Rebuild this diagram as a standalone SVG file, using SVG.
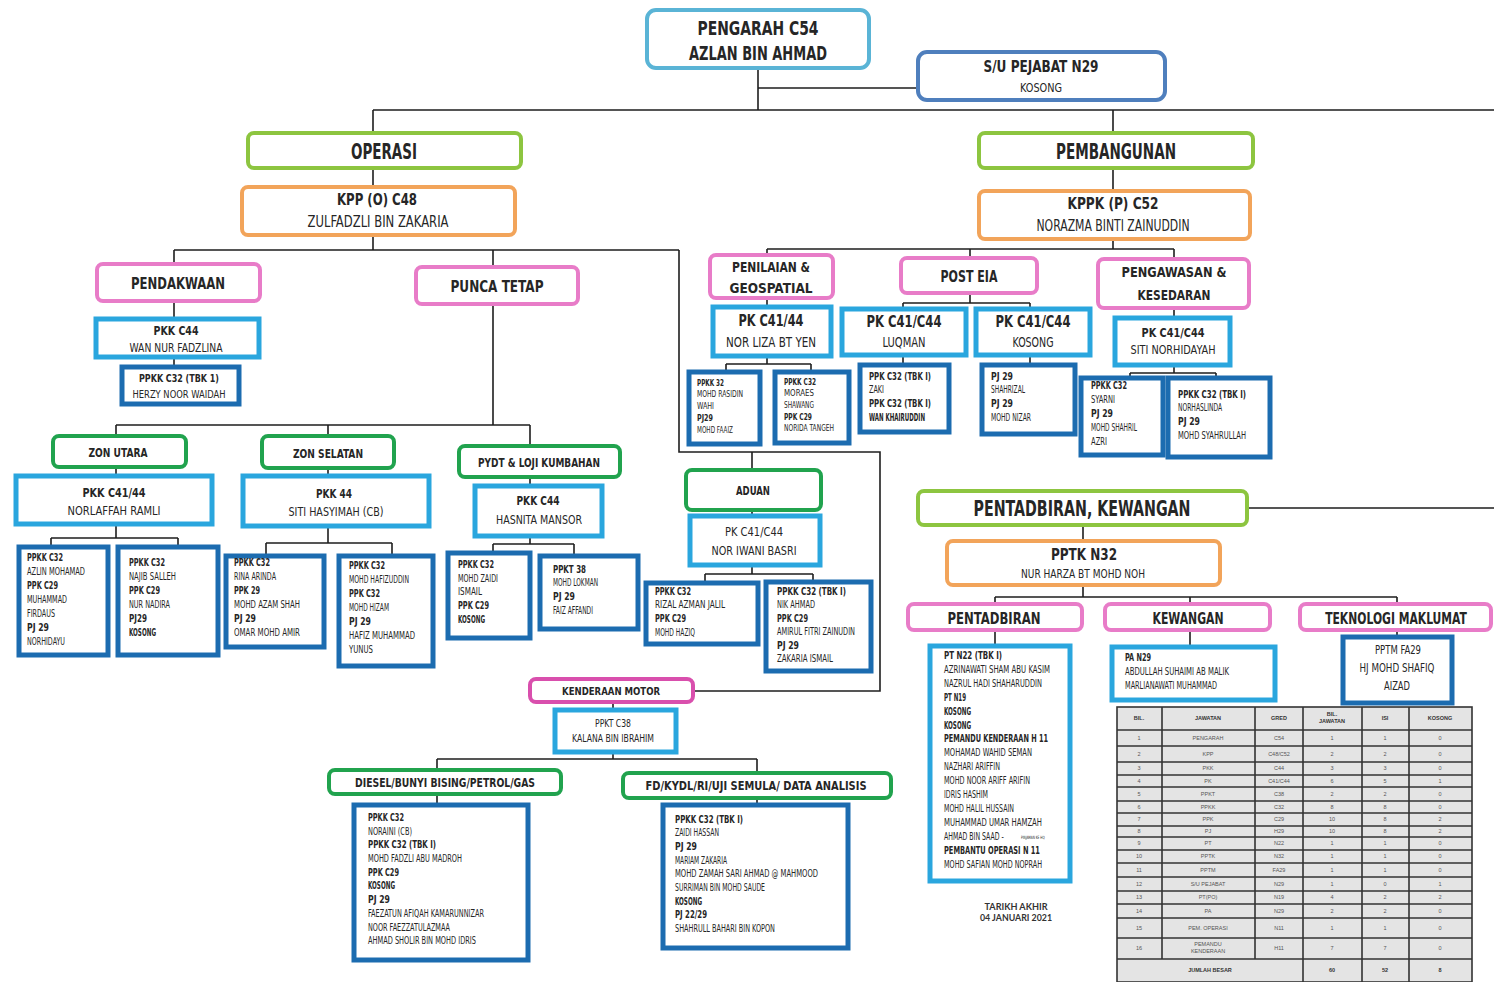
<svg xmlns="http://www.w3.org/2000/svg" width="1494" height="982" viewBox="0 0 1494 982">
<style>
.ln{fill:none;stroke:#1e1e1e;stroke-width:1.6}
rect{fill:#fff}
rect.cell{fill:#e4e4e4;stroke:#333;stroke-width:1.6}
.lbr{stroke:#5ab4d6;stroke-width:4}
.sbr{stroke:#4f7fbd;stroke-width:4}
.lg{stroke:#8dc540;stroke-width:4}
.or{stroke:#f2a45a;stroke-width:4}
.pk{stroke:#e87cc8;stroke-width:4}
.gr{stroke:#21a34e;stroke-width:4}
.mg{stroke:#d94fad;stroke-width:4}
.lb{stroke:#2aa6de;stroke-width:5}
.db{stroke:#1c6cb0;stroke-width:5}
text{font-family:'DejaVu Sans Condensed','DejaVu Sans','Liberation Sans',sans-serif;fill:#262626}
.h{font-weight:bold;text-anchor:middle}
.m{text-anchor:middle}
.t{font-size:10.5px}
.tb{font-size:10.5px;font-weight:bold}
.s{font-size:8.5px}
.sb{font-size:8.5px;font-weight:bold}
.tt{font-family:'Liberation Sans',Arial,sans-serif;font-size:5.5px;fill:#555;text-anchor:middle}
.tth{font-family:'Liberation Sans',Arial,sans-serif;font-size:5.5px;fill:#333;font-weight:bold;text-anchor:middle}
.dt{font-family:Lato,'Liberation Sans',sans-serif;font-size:8.5px;fill:#333;text-anchor:middle;font-weight:bold}
</style>

<g id="connectors">
<path class="ln" d="M758,68V110M758,88H918M373,110H1494M373,110V133M1113,110V133M373,168V187M1113,168V191"/>
<path class="ln" d="M373,235V250M174,250H679M174,250V264M493,250V267M679,250V452H880V691H693M752,452V470"/>
<path class="ln" d="M174,301V319M174,357V367M493,304V425M116,425H530M116,425V436M328,425V436M530,425V446"/>
<path class="ln" d="M116,467V476M328,468V476M530,477V486"/>
<path class="ln" d="M116,524V538M51,538H178M51,538V547M178,538V547"/>
<path class="ln" d="M328,526V543M266,543H392M266,543V556M392,543V556"/>
<path class="ln" d="M530,536V544M493,544H574M493,544V553M574,544V556"/>
<path class="ln" d="M752,510V516M752,565V574M705,574H813M705,574V583M813,574V582"/>
<path class="ln" d="M613,702V710M613,752V759M437,759H757M437,759V770M757,759V773M437,794V805M757,798V805"/>
<path class="ln" d="M1113,239V249M767,249H1174M767,249V255M970,249V258M1174,249V259"/>
<path class="ln" d="M767,298V307M767,356V364M726,364H811M726,364V372M811,364V372"/>
<path class="ln" d="M970,293V303M903,303H1030M903,303V309M1030,303V309M903,355V365M1030,355V365"/>
<path class="ln" d="M1174,308V318M1174,365V373M1130,373H1216M1130,373V378M1216,373V378"/>
<path class="ln" d="M1247,508H1494M1083,525V541M1083,585V597M995,597H1397M995,597V604M1190,597V604M1397,597V604"/>
<path class="ln" d="M995,630V646M1190,630V647M1397,630V637"/>
</g>

<g id="n-pengarah"><rect class="lbr" x="647" y="10" width="222" height="58" rx="9"/>
<text class="h" x="758" y="35" font-size="19" textLength="121" lengthAdjust="spacingAndGlyphs">PENGARAH  C54</text>
<text class="h" x="758" y="60" font-size="19" textLength="138" lengthAdjust="spacingAndGlyphs">AZLAN BIN AHMAD</text></g>

<g id="n-su"><rect class="sbr" x="918" y="52" width="247" height="48" rx="9"/>
<text class="h" x="1041" y="72" font-size="15" textLength="115" lengthAdjust="spacingAndGlyphs">S/U PEJABAT N29</text>
<text class="m" x="1041" y="92" font-size="13" textLength="42" lengthAdjust="spacingAndGlyphs">KOSONG</text></g>

<g id="n-operasi"><rect class="lg" x="248" y="133" width="273" height="35" rx="6"/>
<text class="h" x="384" y="159" font-size="21" textLength="66" lengthAdjust="spacingAndGlyphs">OPERASI</text></g>

<g id="n-pembangunan"><rect class="lg" x="979" y="133" width="274" height="35" rx="6"/>
<text class="h" x="1116" y="159" font-size="21" textLength="120" lengthAdjust="spacingAndGlyphs">PEMBANGUNAN</text></g>

<g id="n-kpp"><rect class="or" x="242" y="187" width="273" height="48" rx="6"/>
<text class="h" x="377" y="205" font-size="16" textLength="80" lengthAdjust="spacingAndGlyphs">KPP (O) C48</text>
<text class="m" x="378" y="227" font-size="15" textLength="141" lengthAdjust="spacingAndGlyphs">ZULFADZLI  BIN  ZAKARIA</text></g>

<g id="n-kppk"><rect class="or" x="979" y="191" width="271" height="48" rx="6"/>
<text class="h" x="1113" y="209" font-size="16" textLength="91" lengthAdjust="spacingAndGlyphs">KPPK (P) C52</text>
<text class="m" x="1113" y="231" font-size="15" textLength="153" lengthAdjust="spacingAndGlyphs">NORAZMA  BINTI  ZAINUDDIN</text></g>

<g id="n-pendakwaan"><rect class="pk" x="97" y="264" width="163" height="37" rx="6"/>
<text class="h" x="178" y="289" font-size="16" textLength="94" lengthAdjust="spacingAndGlyphs">PENDAKWAAN</text></g>

<g id="n-pkk-wan"><rect class="lb" x="96" y="319" width="163" height="38"/>
<text class="h" x="176" y="335" font-size="13" textLength="45" lengthAdjust="spacingAndGlyphs">PKK C44</text>
<text class="m" x="176" y="352" font-size="12" textLength="93" lengthAdjust="spacingAndGlyphs">WAN NUR FADZLINA</text></g>

<g id="n-ppkk-herzy"><rect class="db" x="122" y="367" width="117" height="37"/>
<text class="h" x="179" y="382" font-size="11" textLength="80" lengthAdjust="spacingAndGlyphs">PPKK C32 (TBK 1)</text>
<text class="m" x="179" y="398" font-size="11" textLength="93" lengthAdjust="spacingAndGlyphs">HERZY NOOR WAIDAH</text></g>

<g id="n-punca"><rect class="pk" x="416" y="267" width="162" height="37" rx="6"/>
<text class="h" x="497" y="292" font-size="16" textLength="93" lengthAdjust="spacingAndGlyphs">PUNCA TETAP</text></g>

<g id="n-zon-utara"><rect class="gr" x="53" y="436" width="133" height="31" rx="6"/>
<text class="h" x="118" y="457" font-size="13" textLength="59" lengthAdjust="spacingAndGlyphs">ZON UTARA</text></g>

<g id="n-pkk-norlaffah"><rect class="lb" x="16" y="476" width="196" height="48"/>
<text class="h" x="114" y="497" font-size="13" textLength="63" lengthAdjust="spacingAndGlyphs">PKK C41/44</text>
<text class="m" x="114" y="515" font-size="12" textLength="93" lengthAdjust="spacingAndGlyphs">NORLAFFAH  RAMLI</text></g>

<g id="n-a"><rect class="db" x="19" y="547" width="89" height="108"/>
<text class="tb" x="27" y="561" textLength="36" lengthAdjust="spacingAndGlyphs">PPKK C32</text>
<text class="t" x="27" y="575" textLength="58" lengthAdjust="spacingAndGlyphs">AZLIN MOHAMAD</text>
<text class="tb" x="27" y="589" textLength="31" lengthAdjust="spacingAndGlyphs">PPK C29</text>
<text class="t" x="27" y="603" textLength="40" lengthAdjust="spacingAndGlyphs">MUHAMMAD</text>
<text class="t" x="27" y="617" textLength="28" lengthAdjust="spacingAndGlyphs">FIRDAUS</text>
<text class="tb" x="27" y="631" textLength="22" lengthAdjust="spacingAndGlyphs">PJ 29</text>
<text class="t" x="27" y="645" textLength="38" lengthAdjust="spacingAndGlyphs">NORHIDAYU</text></g>

<g id="n-b"><rect class="db" x="118" y="547" width="100" height="108"/>
<text class="tb" x="129" y="566" textLength="36" lengthAdjust="spacingAndGlyphs">PPKK C32</text>
<text class="t" x="129" y="580" textLength="47" lengthAdjust="spacingAndGlyphs">NAJIB SALLEH</text>
<text class="tb" x="129" y="594" textLength="31" lengthAdjust="spacingAndGlyphs">PPK C29</text>
<text class="t" x="129" y="608" textLength="41" lengthAdjust="spacingAndGlyphs">NUR NADIRA</text>
<text class="tb" x="129" y="622" textLength="18" lengthAdjust="spacingAndGlyphs">PJ29</text>
<text class="tb" x="129" y="636" textLength="27" lengthAdjust="spacingAndGlyphs">KOSONG</text></g>

<g id="n-zon-selatan"><rect class="gr" x="262" y="436" width="132" height="32" rx="6"/>
<text class="h" x="328" y="458" font-size="13" textLength="70" lengthAdjust="spacingAndGlyphs">ZON SELATAN</text></g>

<g id="n-pkk-siti"><rect class="lb" x="243" y="476" width="186" height="50"/>
<text class="h" x="334" y="498" font-size="13" textLength="36" lengthAdjust="spacingAndGlyphs">PKK 44</text>
<text class="m" x="336" y="516" font-size="12" textLength="95" lengthAdjust="spacingAndGlyphs">SITI HASYIMAH (CB)</text></g>

<g id="n-c"><rect class="db" x="226" y="556" width="98" height="91"/>
<text class="tb" x="234" y="566" textLength="36" lengthAdjust="spacingAndGlyphs">PPKK C32</text>
<text class="t" x="234" y="580" textLength="42" lengthAdjust="spacingAndGlyphs">RINA ARINDA</text>
<text class="tb" x="234" y="594" textLength="26" lengthAdjust="spacingAndGlyphs">PPK 29</text>
<text class="t" x="234" y="608" textLength="66" lengthAdjust="spacingAndGlyphs">MOHD AZAM SHAH</text>
<text class="tb" x="234" y="622" textLength="22" lengthAdjust="spacingAndGlyphs">PJ 29</text>
<text class="t" x="234" y="636" textLength="66" lengthAdjust="spacingAndGlyphs">OMAR MOHD AMIR</text></g>

<g id="n-d"><rect class="db" x="339" y="556" width="94" height="110"/>
<text class="tb" x="349" y="569" textLength="36" lengthAdjust="spacingAndGlyphs">PPKK C32</text>
<text class="t" x="349" y="583" textLength="60" lengthAdjust="spacingAndGlyphs">MOHD HAFIZUDDIN</text>
<text class="tb" x="349" y="597" textLength="31" lengthAdjust="spacingAndGlyphs">PPK C32</text>
<text class="t" x="349" y="611" textLength="40" lengthAdjust="spacingAndGlyphs">MOHD HIZAM</text>
<text class="tb" x="349" y="625" textLength="22" lengthAdjust="spacingAndGlyphs">PJ 29</text>
<text class="t" x="349" y="639" textLength="66" lengthAdjust="spacingAndGlyphs">HAFIZ MUHAMMAD</text>
<text class="t" x="349" y="653" textLength="24" lengthAdjust="spacingAndGlyphs">YUNUS</text></g>

<g id="n-pydt"><rect class="gr" x="459" y="446" width="161" height="31" rx="6"/>
<text class="h" x="539" y="467" font-size="12" textLength="122" lengthAdjust="spacingAndGlyphs">PYDT &amp; LOJI  KUMBAHAN</text></g>

<g id="n-pkk-hasnita"><rect class="lb" x="475" y="486" width="127" height="50"/>
<text class="h" x="538" y="505" font-size="13" textLength="43" lengthAdjust="spacingAndGlyphs">PKK C44</text>
<text class="m" x="539" y="524" font-size="12" textLength="86" lengthAdjust="spacingAndGlyphs">HASNITA MANSOR</text></g>

<g id="n-e"><rect class="db" x="448" y="553" width="82" height="85"/>
<text class="tb" x="458" y="568" textLength="36" lengthAdjust="spacingAndGlyphs">PPKK C32</text>
<text class="t" x="458" y="582" textLength="40" lengthAdjust="spacingAndGlyphs">MOHD ZAIDI</text>
<text class="t" x="458" y="595" textLength="24" lengthAdjust="spacingAndGlyphs">ISMAIL</text>
<text class="tb" x="458" y="609" textLength="31" lengthAdjust="spacingAndGlyphs">PPK C29</text>
<text class="tb" x="458" y="623" textLength="27" lengthAdjust="spacingAndGlyphs">KOSONG</text></g>

<g id="n-f"><rect class="db" x="540" y="556" width="98" height="73"/>
<text class="tb" x="553" y="573" textLength="33" lengthAdjust="spacingAndGlyphs">PPKT 38</text>
<text class="t" x="553" y="586" textLength="45" lengthAdjust="spacingAndGlyphs">MOHD LOKMAN</text>
<text class="tb" x="553" y="600" textLength="22" lengthAdjust="spacingAndGlyphs">PJ 29</text>
<text class="t" x="553" y="614" textLength="40" lengthAdjust="spacingAndGlyphs">FAIZ AFFANDI</text></g>

<g id="n-aduan"><rect class="gr" x="686" y="470" width="135" height="40" rx="6"/>
<text class="h" x="753" y="495" font-size="13" textLength="34" lengthAdjust="spacingAndGlyphs">ADUAN</text></g>

<g id="n-pk-iwani"><rect class="lb" x="690" y="516" width="130" height="49"/>
<text class="m" x="754" y="536" font-size="13" textLength="58" lengthAdjust="spacingAndGlyphs">PK C41/C44</text>
<text class="m" x="754" y="555" font-size="12" textLength="85" lengthAdjust="spacingAndGlyphs">NOR IWANI BASRI</text></g>

<g id="n-g"><rect class="db" x="646" y="583" width="112" height="61"/>
<text class="tb" x="655" y="595" textLength="36" lengthAdjust="spacingAndGlyphs">PPKK C32</text>
<text class="t" x="655" y="608" textLength="70" lengthAdjust="spacingAndGlyphs">RIZAL AZMAN JALIL</text>
<text class="tb" x="655" y="622" textLength="31" lengthAdjust="spacingAndGlyphs">PPK C29</text>
<text class="t" x="655" y="636" textLength="40" lengthAdjust="spacingAndGlyphs">MOHD HAZIQ</text></g>

<g id="n-h"><rect class="db" x="766" y="582" width="105" height="89"/>
<text class="tb" x="777" y="595" textLength="69" lengthAdjust="spacingAndGlyphs">PPKK C32 (TBK I)</text>
<text class="t" x="777" y="608" textLength="38" lengthAdjust="spacingAndGlyphs">NIK AHMAD</text>
<text class="tb" x="777" y="622" textLength="31" lengthAdjust="spacingAndGlyphs">PPK C29</text>
<text class="t" x="777" y="635" textLength="78" lengthAdjust="spacingAndGlyphs">AMIRUL FITRI ZAINUDIN</text>
<text class="tb" x="777" y="649" textLength="22" lengthAdjust="spacingAndGlyphs">PJ 29</text>
<text class="t" x="777" y="662" textLength="56" lengthAdjust="spacingAndGlyphs">ZAKARIA  ISMAIL</text></g>

<g id="n-kenderaan"><rect class="mg" x="530" y="679" width="163" height="23" rx="6"/>
<text class="h" x="611" y="695" font-size="11" textLength="98" lengthAdjust="spacingAndGlyphs">KENDERAAN  MOTOR</text></g>

<g id="n-ppkt"><rect class="lb" x="555" y="710" width="121" height="42"/>
<text class="m" x="613" y="727" font-size="11" textLength="36" lengthAdjust="spacingAndGlyphs">PPKT C38</text>
<text class="m" x="613" y="742" font-size="10" textLength="82" lengthAdjust="spacingAndGlyphs">KALANA BIN IBRAHIM</text></g>

<g id="n-diesel"><rect class="gr" x="329" y="770" width="232" height="24" rx="6"/>
<text class="h" x="445" y="787" font-size="12" textLength="180" lengthAdjust="spacingAndGlyphs">DIESEL/BUNYI  BISING/PETROL/GAS</text></g>

<g id="n-fd"><rect class="gr" x="623" y="773" width="268" height="25" rx="6"/>
<text class="h" x="756" y="790" font-size="12" textLength="221" lengthAdjust="spacingAndGlyphs">FD/KYDL/RI/UJI  SEMULA/ DATA ANALISIS</text></g>

<g id="n-diesel-staff"><rect class="db" x="354" y="805" width="174" height="155"/>
<text class="tb" x="368" y="821" textLength="36" lengthAdjust="spacingAndGlyphs">PPKK C32</text>
<text class="t" x="368" y="835" textLength="44" lengthAdjust="spacingAndGlyphs">NORAINI (CB)</text>
<text class="tb" x="368" y="848" textLength="68" lengthAdjust="spacingAndGlyphs">PPKK C32 (TBK I)</text>
<text class="t" x="368" y="862" textLength="94" lengthAdjust="spacingAndGlyphs">MOHD FADZLI ABU MADROH</text>
<text class="tb" x="368" y="876" textLength="31" lengthAdjust="spacingAndGlyphs">PPK C29</text>
<text class="tb" x="368" y="889" textLength="27" lengthAdjust="spacingAndGlyphs">KOSONG</text>
<text class="tb" x="368" y="903" textLength="22" lengthAdjust="spacingAndGlyphs">PJ 29</text>
<text class="t" x="368" y="917" textLength="116" lengthAdjust="spacingAndGlyphs">FAEZATUN AFIQAH KAMARUNNIZAR</text>
<text class="t" x="368" y="931" textLength="82" lengthAdjust="spacingAndGlyphs">NOOR FAEZZATULAZMAA</text>
<text class="t" x="368" y="944" textLength="108" lengthAdjust="spacingAndGlyphs">AHMAD SHOLIR BIN MOHD IDRIS</text></g>

<g id="n-fd-staff"><rect class="db" x="663" y="805" width="185" height="143"/>
<text class="tb" x="675" y="823" textLength="68" lengthAdjust="spacingAndGlyphs">PPKK C32 (TBK I)</text>
<text class="t" x="675" y="836" textLength="44" lengthAdjust="spacingAndGlyphs">ZAIDI HASSAN</text>
<text class="tb" x="675" y="850" textLength="22" lengthAdjust="spacingAndGlyphs">PJ 29</text>
<text class="t" x="675" y="864" textLength="52" lengthAdjust="spacingAndGlyphs">MARIAM ZAKARIA</text>
<text class="t" x="675" y="877" textLength="143" lengthAdjust="spacingAndGlyphs">MOHD ZAMAH SARI AHMAD @ MAHMOOD</text>
<text class="t" x="675" y="891" textLength="90" lengthAdjust="spacingAndGlyphs">SURRIMAN BIN MOHD SAUDE</text>
<text class="tb" x="675" y="905" textLength="27" lengthAdjust="spacingAndGlyphs">KOSONG</text>
<text class="tb" x="675" y="918" textLength="32" lengthAdjust="spacingAndGlyphs">PJ 22/29</text>
<text class="t" x="675" y="932" textLength="100" lengthAdjust="spacingAndGlyphs">SHAHRULL  BAHARI BIN KOPON</text></g>

<g id="n-penilaian"><rect class="pk" x="710" y="255" width="123" height="43" rx="6"/>
<text class="h" x="771" y="272" font-size="14" textLength="78" lengthAdjust="spacingAndGlyphs">PENILAIAN &amp;</text>
<text class="h" x="771" y="293" font-size="14" textLength="83" lengthAdjust="spacingAndGlyphs">GEOSPATIAL</text></g>

<g id="n-pk-liza"><rect class="lb" x="713" y="307" width="118" height="49"/>
<text class="h" x="771" y="326" font-size="15" textLength="65" lengthAdjust="spacingAndGlyphs">PK C41/44</text>
<text class="m" x="771" y="347" font-size="14" textLength="90" lengthAdjust="spacingAndGlyphs">NOR LIZA BT YEN</text></g>

<g id="n-i"><rect class="db" x="689" y="372" width="71" height="72"/>
<text class="sb" x="697" y="386" textLength="27" lengthAdjust="spacingAndGlyphs">PPKK 32</text>
<text class="s" x="697" y="397" textLength="46" lengthAdjust="spacingAndGlyphs" fill="#777">MOHD RASIDIN</text>
<text class="s" x="697" y="409" textLength="17" lengthAdjust="spacingAndGlyphs" fill="#777">WAHI</text>
<text class="sb" x="697" y="421" textLength="16" lengthAdjust="spacingAndGlyphs">PJ29</text>
<text class="s" x="697" y="433" textLength="36" lengthAdjust="spacingAndGlyphs" fill="#777">MOHD FAAIZ</text></g>

<g id="n-j"><rect class="db" x="775" y="372" width="74" height="71"/>
<text class="sb" x="784" y="385" textLength="32" lengthAdjust="spacingAndGlyphs">PPKK C32</text>
<text class="s" x="784" y="396" textLength="30" lengthAdjust="spacingAndGlyphs" fill="#777">MORAES</text>
<text class="s" x="784" y="408" textLength="30" lengthAdjust="spacingAndGlyphs" fill="#777">SHAWANG</text>
<text class="sb" x="784" y="420" textLength="28" lengthAdjust="spacingAndGlyphs">PPK C29</text>
<text class="s" x="784" y="431" textLength="50" lengthAdjust="spacingAndGlyphs" fill="#777">NORIDA TANGEH</text></g>

<g id="n-posteia"><rect class="pk" x="901" y="258" width="136" height="35" rx="6"/>
<text class="h" x="969" y="282" font-size="16" textLength="57" lengthAdjust="spacingAndGlyphs">POST EIA</text></g>

<g id="n-pk-luqman"><rect class="lb" x="842" y="309" width="124" height="46"/>
<text class="h" x="904" y="327" font-size="15" textLength="75" lengthAdjust="spacingAndGlyphs">PK C41/C44</text>
<text class="m" x="904" y="347" font-size="14" textLength="43" lengthAdjust="spacingAndGlyphs">LUQMAN</text></g>

<g id="n-pk-kosong"><rect class="lb" x="976" y="309" width="114" height="46"/>
<text class="h" x="1033" y="327" font-size="15" textLength="75" lengthAdjust="spacingAndGlyphs">PK C41/C44</text>
<text class="m" x="1033" y="347" font-size="14" textLength="41" lengthAdjust="spacingAndGlyphs">KOSONG</text></g>

<g id="n-luqman-staff"><rect class="db" x="860" y="365" width="89" height="67"/>
<text class="tb" x="869" y="380" textLength="62" lengthAdjust="spacingAndGlyphs">PPK C32  (TBK I)</text>
<text class="t" x="869" y="393" textLength="15" lengthAdjust="spacingAndGlyphs">ZAKI</text>
<text class="tb" x="869" y="407" textLength="62" lengthAdjust="spacingAndGlyphs">PPK C32  (TBK I)</text>
<text class="tb" x="869" y="421" textLength="56" lengthAdjust="spacingAndGlyphs">WAN KHAIRUDDIN</text></g>

<g id="n-kosong-staff"><rect class="db" x="982" y="365" width="93" height="69"/>
<text class="tb" x="991" y="380" textLength="22" lengthAdjust="spacingAndGlyphs">PJ 29</text>
<text class="t" x="991" y="393" textLength="34" lengthAdjust="spacingAndGlyphs">SHAHRIZAL</text>
<text class="tb" x="991" y="407" textLength="22" lengthAdjust="spacingAndGlyphs">PJ 29</text>
<text class="t" x="991" y="421" textLength="40" lengthAdjust="spacingAndGlyphs">MOHD NIZAR</text></g>

<g id="n-pengawasan"><rect class="pk" x="1098" y="259" width="151" height="49" rx="6"/>
<text class="h" x="1174" y="277" font-size="14" textLength="105" lengthAdjust="spacingAndGlyphs">PENGAWASAN &amp;</text>
<text class="h" x="1174" y="300" font-size="14" textLength="73" lengthAdjust="spacingAndGlyphs">KESEDARAN</text></g>

<g id="n-pk-norhidayah"><rect class="lb" x="1115" y="318" width="115" height="47"/>
<text class="h" x="1173" y="337" font-size="13" textLength="63" lengthAdjust="spacingAndGlyphs">PK C41/C44</text>
<text class="m" x="1173" y="354" font-size="12" textLength="85" lengthAdjust="spacingAndGlyphs">SITI NORHIDAYAH</text></g>

<g id="n-k"><rect class="db" x="1081" y="378" width="82" height="77"/>
<text class="tb" x="1091" y="389" textLength="36" lengthAdjust="spacingAndGlyphs">PPKK C32</text>
<text class="t" x="1091" y="403" textLength="24" lengthAdjust="spacingAndGlyphs">SYARNI</text>
<text class="tb" x="1091" y="417" textLength="22" lengthAdjust="spacingAndGlyphs">PJ 29</text>
<text class="t" x="1091" y="431" textLength="46" lengthAdjust="spacingAndGlyphs">MOHD SHAHRIL</text>
<text class="t" x="1091" y="445" textLength="16" lengthAdjust="spacingAndGlyphs">AZRI</text></g>

<g id="n-l"><rect class="db" x="1168" y="378" width="102" height="79"/>
<text class="tb" x="1178" y="398" textLength="68" lengthAdjust="spacingAndGlyphs">PPKK C32 (TBK I)</text>
<text class="t" x="1178" y="411" textLength="44" lengthAdjust="spacingAndGlyphs">NORHASLINDA</text>
<text class="tb" x="1178" y="425" textLength="22" lengthAdjust="spacingAndGlyphs">PJ 29</text>
<text class="t" x="1178" y="439" textLength="68" lengthAdjust="spacingAndGlyphs">MOHD SYAHRULLAH</text></g>

<g id="n-pk-kew"><rect class="lg" x="918" y="491" width="329" height="34" rx="6"/>
<text class="h" x="1082" y="516" font-size="22" textLength="217" lengthAdjust="spacingAndGlyphs">PENTADBIRAN,  KEWANGAN</text></g>

<g id="n-pptk"><rect class="or" x="947" y="541" width="273" height="44" rx="6"/>
<text class="h" x="1084" y="560" font-size="16" textLength="66" lengthAdjust="spacingAndGlyphs">PPTK N32</text>
<text class="m" x="1083" y="578" font-size="12" textLength="124" lengthAdjust="spacingAndGlyphs">NUR HARZA BT MOHD NOH</text></g>

<g id="n-pentadbiran"><rect class="pk" x="908" y="604" width="174" height="26" rx="6"/>
<text class="h" x="994" y="624" font-size="16" textLength="93" lengthAdjust="spacingAndGlyphs">PENTADBIRAN</text></g>

<g id="n-kewangan"><rect class="pk" x="1105" y="604" width="165" height="26" rx="6"/>
<text class="h" x="1188" y="624" font-size="16" textLength="71" lengthAdjust="spacingAndGlyphs">KEWANGAN</text></g>

<g id="n-tm"><rect class="pk" x="1300" y="604" width="191" height="26" rx="6"/>
<text class="h" transform="translate(1396,624) scale(0.8,1)" x="0" y="0" font-size="15">TEKNOLOGI MAKLUMAT</text></g>

<g id="n-pentadbiran-staff"><rect class="lb" x="930" y="646" width="140" height="235"/>
<text class="tb" x="944" y="659" textLength="58" lengthAdjust="spacingAndGlyphs">PT N22  (TBK I)</text>
<text class="t" x="944" y="673" textLength="106" lengthAdjust="spacingAndGlyphs">AZRINAWATI  SHAM ABU KASIM</text>
<text class="t" x="944" y="687" textLength="98" lengthAdjust="spacingAndGlyphs">NAZRUL  HADI  SHAHARUDDIN</text>
<text class="tb" x="944" y="701" textLength="22" lengthAdjust="spacingAndGlyphs">PT N19</text>
<text class="tb" x="944" y="715" textLength="27" lengthAdjust="spacingAndGlyphs">KOSONG</text>
<text class="tb" x="944" y="729" textLength="27" lengthAdjust="spacingAndGlyphs">KOSONG</text>
<text class="tb" x="944" y="742" textLength="104" lengthAdjust="spacingAndGlyphs">PEMANDU   KENDERAAN   H 11</text>
<text class="t" x="944" y="756" textLength="88" lengthAdjust="spacingAndGlyphs">MOHAMAD WAHID SEMAN</text>
<text class="t" x="944" y="770" textLength="56" lengthAdjust="spacingAndGlyphs">NAZHARI  ARIFFIN</text>
<text class="t" x="944" y="784" textLength="86" lengthAdjust="spacingAndGlyphs">MOHD NOOR ARIFF  ARIFIN</text>
<text class="t" x="944" y="798" textLength="44" lengthAdjust="spacingAndGlyphs">IDRIS  HASHIM</text>
<text class="t" x="944" y="812" textLength="70" lengthAdjust="spacingAndGlyphs">MOHD HALIL  HUSSAIN</text>
<text class="t" x="944" y="826" textLength="98" lengthAdjust="spacingAndGlyphs">MUHAMMAD UMAR HAMZAH</text>
<text class="t" transform="translate(944,840) scale(0.66,1)" x="0" y="0">AHMAD BIN  SAAD -</text>
<text transform="translate(1021,839) scale(0.7,1)" x="0" y="0" font-size="4.5" fill="#777">PINJAMAN KE HQ</text>
<text class="tb" x="944" y="854" textLength="96" lengthAdjust="spacingAndGlyphs">PEMBANTU   OPERASI   N 11</text>
<text class="t" x="944" y="868" textLength="98" lengthAdjust="spacingAndGlyphs">MOHD SAFIAN  MOHD NOPRAH</text></g>

<g id="n-kewangan-staff"><rect class="lb" x="1112" y="647" width="163" height="53"/>
<text class="tb" x="1125" y="661" textLength="26" lengthAdjust="spacingAndGlyphs">PA N29</text>
<text class="t" x="1125" y="675" textLength="104" lengthAdjust="spacingAndGlyphs">ABDULLAH  SUHAIMI AB MALIK</text>
<text class="t" x="1125" y="689" textLength="92" lengthAdjust="spacingAndGlyphs">MARLIANAWATI  MUHAMMAD</text></g>

<g id="n-tm-staff"><rect class="db" x="1343" y="637" width="109" height="66"/>
<text class="m" x="1398" y="654" font-size="12" textLength="46" lengthAdjust="spacingAndGlyphs">PPTM FA29</text>
<text class="m" x="1397" y="672" font-size="12" textLength="75" lengthAdjust="spacingAndGlyphs">HJ MOHD SHAFIQ</text>
<text class="m" x="1397" y="690" font-size="12" textLength="26" lengthAdjust="spacingAndGlyphs">AIZAD</text></g>

<g id="tarikh">
<text class="dt" x="1016" y="910" textLength="63" lengthAdjust="spacingAndGlyphs">TARIKH AKHIR</text>
<text class="dt" x="1016" y="921" textLength="72" lengthAdjust="spacingAndGlyphs">04 JANUARI 2021</text>
</g>

<g id="table">
<rect class="cell" x="1117" y="707" width="355" height="275"/>
<path fill="none" stroke="#333" stroke-width="1.6" d="M1162,707V959M1255,707V959M1303,707V982M1362,707V982M1409,707V982
M1117,730H1472M1117,746H1472M1117,762H1472M1117,775H1472M1117,787H1472M1117,801H1472M1117,813H1472M1117,826H1472M1117,837H1472M1117,850H1472M1117,863H1472M1117,877H1472M1117,891H1472M1117,904H1472M1117,918H1472M1117,938H1472M1117,959H1472"/>
<text class="tth" x="1139" y="720">BIL.</text><text class="tth" x="1208" y="720">JAWATAN</text><text class="tth" x="1279" y="720">GRED</text><text class="tth" x="1332" y="716">BIL.</text><text class="tth" x="1332" y="723">JAWATAN</text><text class="tth" x="1385" y="720">ISI</text><text class="tth" x="1440" y="720">KOSONG</text>
<g>
<text class="tt" x="1139" y="740">1</text><text class="tt" x="1208" y="740">PENGARAH</text><text class="tt" x="1279" y="740">C54</text><text class="tt" x="1332" y="740">1</text><text class="tt" x="1385" y="740">1</text><text class="tt" x="1440" y="740">0</text>
<text class="tt" x="1139" y="756">2</text><text class="tt" x="1208" y="756">KPP</text><text class="tt" x="1279" y="756">C48/C52</text><text class="tt" x="1332" y="756">2</text><text class="tt" x="1385" y="756">2</text><text class="tt" x="1440" y="756">0</text>
<text class="tt" x="1139" y="770">3</text><text class="tt" x="1208" y="770">PKK</text><text class="tt" x="1279" y="770">C44</text><text class="tt" x="1332" y="770">3</text><text class="tt" x="1385" y="770">3</text><text class="tt" x="1440" y="770">0</text>
<text class="tt" x="1139" y="783">4</text><text class="tt" x="1208" y="783">PK</text><text class="tt" x="1279" y="783">C41/C44</text><text class="tt" x="1332" y="783">6</text><text class="tt" x="1385" y="783">5</text><text class="tt" x="1440" y="783">1</text>
<text class="tt" x="1139" y="796">5</text><text class="tt" x="1208" y="796">PPKT</text><text class="tt" x="1279" y="796">C38</text><text class="tt" x="1332" y="796">2</text><text class="tt" x="1385" y="796">2</text><text class="tt" x="1440" y="796">0</text>
<text class="tt" x="1139" y="809">6</text><text class="tt" x="1208" y="809">PPKK</text><text class="tt" x="1279" y="809">C32</text><text class="tt" x="1332" y="809">8</text><text class="tt" x="1385" y="809">8</text><text class="tt" x="1440" y="809">0</text>
<text class="tt" x="1139" y="821">7</text><text class="tt" x="1208" y="821">PPK</text><text class="tt" x="1279" y="821">C29</text><text class="tt" x="1332" y="821">10</text><text class="tt" x="1385" y="821">8</text><text class="tt" x="1440" y="821">2</text>
<text class="tt" x="1139" y="833">8</text><text class="tt" x="1208" y="833">PJ</text><text class="tt" x="1279" y="833">H29</text><text class="tt" x="1332" y="833">10</text><text class="tt" x="1385" y="833">8</text><text class="tt" x="1440" y="833">2</text>
<text class="tt" x="1139" y="845">9</text><text class="tt" x="1208" y="845">PT</text><text class="tt" x="1279" y="845">N22</text><text class="tt" x="1332" y="845">1</text><text class="tt" x="1385" y="845">1</text><text class="tt" x="1440" y="845">0</text>
<text class="tt" x="1139" y="858">10</text><text class="tt" x="1208" y="858">PPTK</text><text class="tt" x="1279" y="858">N32</text><text class="tt" x="1332" y="858">1</text><text class="tt" x="1385" y="858">1</text><text class="tt" x="1440" y="858">0</text>
<text class="tt" x="1139" y="872">11</text><text class="tt" x="1208" y="872">PPTM</text><text class="tt" x="1279" y="872">FA29</text><text class="tt" x="1332" y="872">1</text><text class="tt" x="1385" y="872">1</text><text class="tt" x="1440" y="872">0</text>
<text class="tt" x="1139" y="886">12</text><text class="tt" x="1208" y="886">S/U PEJABAT</text><text class="tt" x="1279" y="886">N29</text><text class="tt" x="1332" y="886">1</text><text class="tt" x="1385" y="886">0</text><text class="tt" x="1440" y="886">1</text>
<text class="tt" x="1139" y="899">13</text><text class="tt" x="1208" y="899">PT(PO)</text><text class="tt" x="1279" y="899">N19</text><text class="tt" x="1332" y="899">4</text><text class="tt" x="1385" y="899">2</text><text class="tt" x="1440" y="899">2</text>
<text class="tt" x="1139" y="913">14</text><text class="tt" x="1208" y="913">PA</text><text class="tt" x="1279" y="913">N29</text><text class="tt" x="1332" y="913">2</text><text class="tt" x="1385" y="913">2</text><text class="tt" x="1440" y="913">0</text>
<text class="tt" x="1139" y="930">15</text><text class="tt" x="1208" y="930">PEM. OPERASI</text><text class="tt" x="1279" y="930">N11</text><text class="tt" x="1332" y="930">1</text><text class="tt" x="1385" y="930">1</text><text class="tt" x="1440" y="930">0</text>
<text class="tt" x="1139" y="950">16</text><text class="tt" x="1208" y="946">PEMANDU</text><text class="tt" x="1208" y="953">KENDERAAN</text><text class="tt" x="1279" y="950">H11</text><text class="tt" x="1332" y="950">7</text><text class="tt" x="1385" y="950">7</text><text class="tt" x="1440" y="950">0</text>
<text class="tth" x="1210" y="972">JUMLAH BESAR</text><text class="tth" x="1332" y="972">60</text><text class="tth" x="1385" y="972">52</text><text class="tth" x="1440" y="972">8</text>
</g>
</g>
</svg>
